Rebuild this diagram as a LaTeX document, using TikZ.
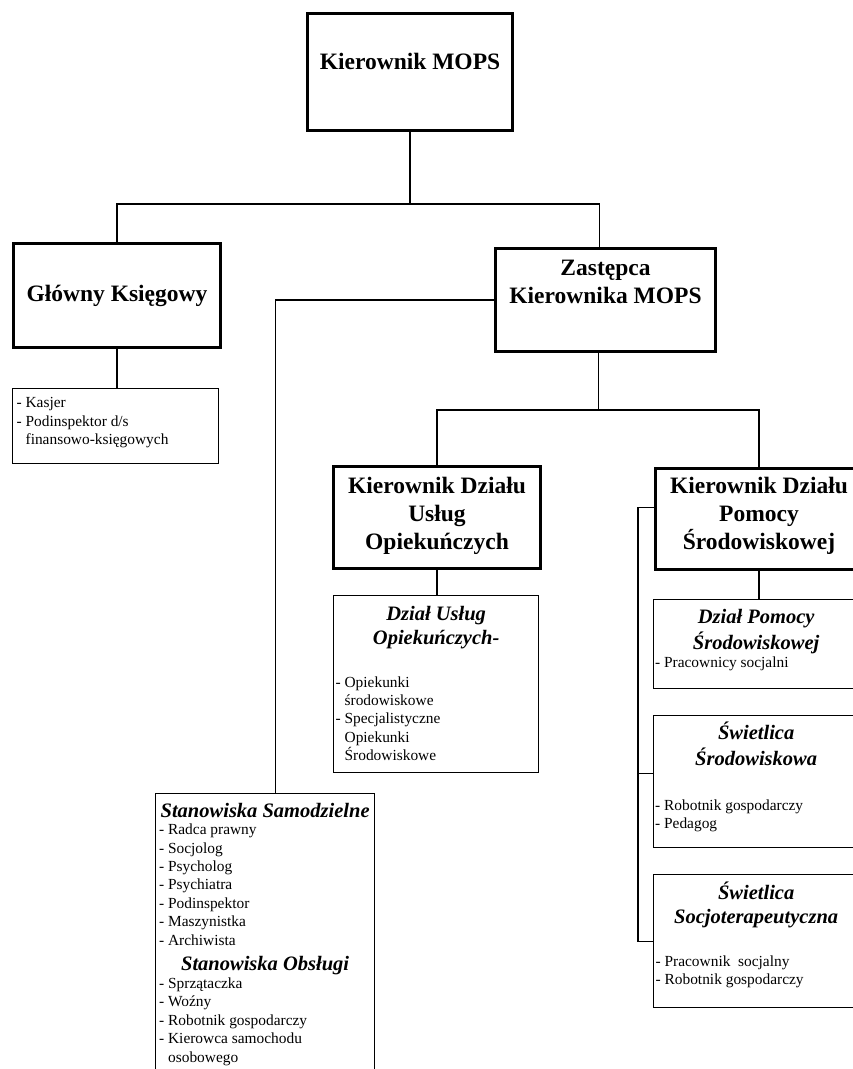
\documentclass[tikz,border=0pt]{standalone}
\usepackage{fontspec}
\setmainfont{Liberation Serif}
\usepackage{tikz}

\newcommand{\titlefont}{\fontsize{23.5}{28}\selectfont\bfseries}
\newcommand{\headfont}{\fontsize{20.5}{23.5}\selectfont\bfseries\itshape}
\newcommand{\listfont}{\fontsize{15.4}{18.4}\selectfont}
\newcommand{\boxtext}[4]{\parbox[c][#2][t]{#1}{\vspace*{#3}#4}}
\newcommand{\cont}{\phantom{- }}

\tikzset{
  headbox/.style={draw, line width=3pt, inner sep=0pt, anchor=north west},
  listbox/.style={draw, line width=1.3pt, inner sep=0pt, anchor=north west}
}

\begin{document}
\begin{tikzpicture}[x=1pt,y=-1pt,line width=1.1pt]
\useasboundingbox (0,0) rectangle (853,1069);
\clip (0,0) rectangle (853,1069);
\fill[white] (0,0) rectangle (853,1069);

\node [headbox] (kier) at (306,12)
  {\boxtext{205pt}{117pt}{36.4pt}{\centering\titlefont\strut Kierownik MOPS\par}};
\node [headbox] (ksieg) at (12,242)
  {\boxtext{207pt}{104pt}{38.4pt}{\centering\titlefont\strut Główny Księgowy\par}};
\node [headbox] (zast) at (494,247)
  {\boxtext{220pt}{103pt}{7.4pt}{\centering\titlefont\strut Zastępca\\ Kierownika MOPS\par}};
\node [headbox] (kduo) at (332,465)
  {\boxtext{207pt}{102pt}{7.4pt}{\centering\titlefont\strut Kierownik Działu\\ Usług\\ Opiekuńczych\par}};
\node [headbox] (kdps) at (654,467)
  {\boxtext{207pt}{101pt}{5.4pt}{\centering\titlefont\strut Kierownik Działu\\ Pomocy\\ Środowiskowej\par}};

\node [listbox] (kasjer) at (12,388)
  {\boxtext{206pt}{75pt}{6.1pt}{\listfont\leftskip=4pt\strut - Kasjer\\ - Podinspektor d/s\\ \cont finansowo-księgowych\par}};

\node [listbox] (dzus) at (333,595)
  {\boxtext{205pt}{177pt}{8.5pt}{%
    {\centering\headfont\strut Dział Usług\\ Opiekuńczych-\par}
    \vspace{24.6pt}
    {\listfont\leftskip=2pt - Opiekunki\\ \cont środowiskowe\\ - Specjalistyczne\\ \cont Opiekunki\\ \cont Środowiskowe\par}}};

\node [listbox] (dzps) at (653,599)
  {\boxtext{205pt}{89pt}{7.5pt}{%
    {\centering\headfont\strut Dział Pomocy\\ Środowiskowej\par}
    {\listfont\leftskip=1.5pt - Pracownicy socjalni\par}}};

\node [listbox] (swsr) at (653,715)
  {\boxtext{205pt}{132pt}{6.5pt}{%
    {\centering\headfont\strut Świetlica\\ Środowiskowa\par}
    \vspace{26.6pt}
    {\listfont\leftskip=1.5pt - Robotnik gospodarczy\\ - Pedagog\par}}};

\node [listbox] (swso) at (653,874)
  {\boxtext{205pt}{133pt}{7.5pt}{%
    {\centering\headfont\strut Świetlica\\ Socjoterapeutyczna\par}
    \vspace{24.6pt}
    {\listfont\leftskip=2pt - Pracownik~ socjalny\\ - Robotnik gospodarczy\par}}};

\node [listbox] (stan) at (155,793)
  {\boxtext{219pt}{282pt}{7.5pt}{%
    {\centering\headfont\strut Stanowiska Samodzielne\par}
    \vspace{-1.4pt}
    {\listfont\leftskip=3.5pt - Radca prawny\\ - Socjolog\\ - Psycholog\\ - Psychiatra\\ - Podinspektor\\ - Maszynistka\\ - Archiwista\par}
    \vspace{1.5pt}
    {\centering\headfont Stanowiska Obsługi\par}
    {\listfont\leftskip=3.5pt - Sprzątaczka\\ - Woźny\\ - Robotnik gospodarczy\\ - Kierowca samochodu\\ \cont osobowego\par}}};

% polaczenia
\draw (kier.south) -- ++(0,72) -| (ksieg.north);
\draw (kier.south) ++(0,72) -| ([xshift=-6pt]zast.north);
\draw (ksieg.south) -- (ksieg.south |- kasjer.north);
\draw (zast.west) -| ([xshift=10pt]stan.north);
\draw ([xshift=-7pt]zast.south) -- ++(0,57) -| (kduo.north);
\draw ([xshift=-7pt]zast.south) ++(0,57) -| (kdps.north);
\draw (kduo.south) -- (kduo.south |- dzus.north);
\draw (kdps.south) -- (kdps.south |- dzps.north);
\draw ([yshift=11.5pt]kdps.west) -- ++(-16,0) |- (swso.west);
\draw ([yshift=8pt]swsr.west) -- ++(-15,0);
\end{tikzpicture}
\end{document}
